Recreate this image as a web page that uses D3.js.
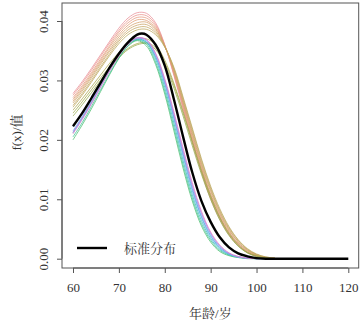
<!DOCTYPE html>
<html>
<head>
<meta charset="utf-8">
<script src="https://cdn.jsdelivr.net/npm/d3@7"></script>
<style>
  body { margin: 0; background: #fff; }
  svg { display: block; }
</style>
</head>
<body>
<div id="chart"></div>
<script>
// age grid for the coloured density curves
var ageGrid = [60,62,64,66,68,70,72,74,76,78,80,82,84,86,88,90,92,94,96,98,100,102,104];

// warm curves (pink -> tan), highest peaks
var warmSeries = [
  [0.0278,0.0298,0.0320,0.0343,0.0366,0.0388,0.0405,0.0414,0.0413,0.0397,0.0360,0.0308,0.0252,0.0196,0.0145,0.0100,0.0066,0.0040,0.0022,0.0010,0.0004,0.0001,0.0000],
  [0.0275,0.0295,0.0317,0.0340,0.0363,0.0384,0.0401,0.0410,0.0409,0.0394,0.0359,0.0310,0.0255,0.0199,0.0148,0.0103,0.0069,0.0042,0.0023,0.0011,0.0005,0.0001,0.0000],
  [0.0271,0.0291,0.0313,0.0336,0.0359,0.0381,0.0397,0.0406,0.0405,0.0391,0.0359,0.0312,0.0258,0.0203,0.0152,0.0106,0.0071,0.0044,0.0025,0.0012,0.0005,0.0002,0.0000],
  [0.0268,0.0288,0.0310,0.0333,0.0356,0.0377,0.0393,0.0402,0.0401,0.0388,0.0358,0.0314,0.0261,0.0206,0.0155,0.0109,0.0074,0.0046,0.0026,0.0013,0.0006,0.0002,0.0000],
  [0.0265,0.0285,0.0307,0.0330,0.0352,0.0373,0.0389,0.0397,0.0398,0.0386,0.0358,0.0316,0.0263,0.0210,0.0158,0.0113,0.0076,0.0048,0.0028,0.0014,0.0006,0.0002,0.0001],
  [0.0262,0.0282,0.0304,0.0327,0.0349,0.0369,0.0385,0.0393,0.0394,0.0383,0.0357,0.0318,0.0266,0.0213,0.0161,0.0116,0.0079,0.0050,0.0029,0.0015,0.0007,0.0002,0.0001],
  [0.0258,0.0278,0.0300,0.0323,0.0345,0.0366,0.0381,0.0389,0.0390,0.0380,0.0357,0.0320,0.0269,0.0217,0.0165,0.0119,0.0081,0.0052,0.0031,0.0016,0.0007,0.0003,0.0001],
  [0.0255,0.0275,0.0297,0.0320,0.0342,0.0362,0.0377,0.0385,0.0386,0.0377,0.0356,0.0322,0.0272,0.0220,0.0168,0.0122,0.0084,0.0054,0.0032,0.0017,0.0008,0.0003,0.0001]
];
var warmColors = ["#e98f98","#ea9289","#e5987e","#de9c74","#d5a06b","#cba365","#c2a560","#baa75c"];

// olive curves, lowest peaks
var oliveSeries = [
  [0.0250,0.0269,0.0289,0.0309,0.0329,0.0347,0.0361,0.0369,0.0370,0.0360,0.0334,0.0295,0.0248,0.0198,0.0149,0.0106,0.0070,0.0043,0.0024,0.0011,0.0005,0.0001,0.0000],
  [0.0245,0.0264,0.0284,0.0304,0.0323,0.0340,0.0354,0.0362,0.0364,0.0355,0.0330,0.0292,0.0245,0.0195,0.0146,0.0103,0.0068,0.0041,0.0022,0.0010,0.0004,0.0001,0.0000],
  [0.0240,0.0259,0.0279,0.0300,0.0320,0.0338,0.0352,0.0360,0.0362,0.0352,0.0326,0.0287,0.0240,0.0190,0.0142,0.0100,0.0065,0.0039,0.0021,0.0010,0.0004,0.0001,0.0000]
];
var oliveColors = ["#aaa64e","#a0a84a","#95aa4c"];

// green / teal / cyan curves, earliest decline
var greenSeries = [
  [0.0200,0.0225,0.0252,0.0281,0.0310,0.0337,0.0358,0.0367,0.0358,0.0327,0.0277,0.0215,0.0152,0.0097,0.0055,0.0028,0.0012,0.0005,0.0002,0.0000,0.0000,0.0000,0.0000],
  [0.0205,0.0229,0.0256,0.0284,0.0312,0.0338,0.0358,0.0368,0.0361,0.0331,0.0282,0.0221,0.0158,0.0102,0.0059,0.0031,0.0014,0.0006,0.0002,0.0001,0.0000,0.0000,0.0000],
  [0.0212,0.0236,0.0262,0.0290,0.0317,0.0342,0.0361,0.0370,0.0364,0.0336,0.0288,0.0228,0.0165,0.0108,0.0064,0.0034,0.0016,0.0007,0.0003,0.0001,0.0000,0.0000,0.0000],
  [0.0222,0.0245,0.0270,0.0297,0.0323,0.0346,0.0362,0.0369,0.0364,0.0340,0.0296,0.0238,0.0176,0.0118,0.0071,0.0039,0.0019,0.0008,0.0003,0.0001,0.0000,0.0000,0.0000]
];
var greenColors = ["#4cbf6e","#3cc196","#35bfb7","#3ebcd2"];

// blue / purple / pink curves
var blueSeries = [
  [0.0215,0.0239,0.0265,0.0293,0.0320,0.0344,0.0362,0.0371,0.0366,0.0340,0.0294,0.0235,0.0172,0.0114,0.0069,0.0037,0.0018,0.0008,0.0003,0.0001,0.0000,0.0000,0.0000],
  [0.0213,0.0237,0.0263,0.0291,0.0318,0.0343,0.0362,0.0372,0.0368,0.0344,0.0300,0.0243,0.0180,0.0122,0.0075,0.0042,0.0021,0.0009,0.0003,0.0001,0.0000,0.0000,0.0000],
  [0.0212,0.0236,0.0262,0.0290,0.0317,0.0342,0.0361,0.0371,0.0368,0.0344,0.0300,0.0243,0.0182,0.0124,0.0077,0.0043,0.0021,0.0009,0.0003,0.0001,0.0000,0.0000,0.0000],
  [0.0210,0.0234,0.0260,0.0288,0.0316,0.0341,0.0361,0.0372,0.0369,0.0346,0.0303,0.0247,0.0186,0.0128,0.0080,0.0045,0.0023,0.0010,0.0004,0.0001,0.0000,0.0000,0.0000]
];
var blueColors = ["#6aa6ec","#8f9af0","#b48fe8","#e080c8"];

// standard distribution (black)
var stdAge = [60,62,64,66,68,70,72,74,75,76,78,80,82,84,86,88,90,92,94,96,98,100,102,105,110,120];
var stdDensity = [0.0223,0.0245,0.0270,0.0296,0.0322,0.0345,0.0364,0.0377,0.0379,0.0377,0.0360,0.0325,0.0268,0.0205,0.0145,0.0097,0.0062,0.0036,0.0019,0.0009,0.0004,0.0001,0.0000,0.0000,0.0000,0.0000];

var xTicks = [60,70,80,90,100,110,120];
var yTicks = [0,0.01,0.02,0.03,0.04];
var legendLabel = "标准分布";
var xTitle = "年龄/岁";
var yTitle = "f(x)/值";

var W = 363, H = 325;
var box = {left: 62, top: 3, right: 358.7, bottom: 268};
var serif = "'Liberation Serif', 'Noto Serif CJK SC', serif";

var svg = d3.select("#chart").append("svg")
    .attr("width", W)
    .attr("height", H);

var xScale = d3.scaleLinear().domain([60, 120]).range([73, 348.3]);
var yScale = d3.scaleLinear().domain([0, 0.04]).range([258.7, 21]);

var line = d3.line()
    .x(function(d) { return xScale(d[0]); })
    .y(function(d) { return yScale(d[1]); })
    .curve(d3.curveCatmullRom.alpha(0.5));

function drawGroup(series, colors) {
  series.forEach(function(vals, i) {
    var pts = ageGrid.map(function(a, j) { return [a, vals[j]]; });
    svg.append("path")
        .attr("d", line(pts))
        .attr("fill", "none")
        .attr("stroke", colors[i])
        .attr("stroke-width", 0.9)
        .attr("stroke-opacity", 0.85);
  });
}

drawGroup(warmSeries, warmColors);
drawGroup(oliveSeries, oliveColors);
drawGroup(greenSeries, greenColors);
drawGroup(blueSeries, blueColors);

// black standard curve
svg.append("path")
    .attr("d", line(stdAge.map(function(a, j) { return [a, stdDensity[j]]; })))
    .attr("fill", "none")
    .attr("stroke", "#000")
    .attr("stroke-width", 2.4);

// box
svg.append("rect")
    .attr("x", box.left)
    .attr("y", box.top)
    .attr("width", box.right - box.left)
    .attr("height", box.bottom - box.top)
    .attr("fill", "none")
    .attr("stroke", "#555")
    .attr("stroke-width", 1);

function styleText(sel) {
  sel.style("font-family", serif).style("font-size", "13px").attr("fill", "#333");
}

// axes
var xAxis = d3.axisBottom(xScale).tickValues(xTicks).tickSize(5).tickPadding(7)
    .tickFormat(d3.format("d"));
var gx = svg.append("g")
    .attr("transform", "translate(0," + box.bottom + ")")
    .call(xAxis);
gx.attr("font-family", null).attr("font-size", null);
gx.select(".domain").attr("d", "M" + xScale(60) + ",0H" + xScale(120)).attr("stroke", "#555");
gx.selectAll(".tick line").attr("stroke", "#555");
gx.selectAll(".tick text").call(styleText).attr("dy", "0.9em");

var yAxis = d3.axisLeft(yScale).tickValues(yTicks).tickSize(5).tickFormat(d3.format(".2f"));
var gy = svg.append("g")
    .attr("transform", "translate(" + box.left + ",0)")
    .call(yAxis);
gy.attr("font-family", null).attr("font-size", null);
gy.select(".domain").attr("d", "M0," + yScale(0) + "V" + yScale(0.04)).attr("stroke", "#555");
gy.selectAll(".tick line").attr("stroke", "#555");
gy.selectAll(".tick text").call(styleText)
    .attr("x", null).attr("dy", null)
    .attr("text-anchor", "middle")
    .attr("transform", "translate(-14,0) rotate(-90)");

// titles
svg.append("text").call(styleText)
    .attr("x", (box.left + box.right) / 2)
    .attr("y", 318)
    .attr("text-anchor", "middle")
    .text(xTitle);

svg.append("text").call(styleText)
    .attr("transform", "translate(21," + ((box.top + box.bottom) / 2 - 3) + ") rotate(-90)")
    .attr("text-anchor", "middle")
    .text(yTitle);

// legend
svg.append("line")
    .attr("x1", 77).attr("x2", 107)
    .attr("y1", 248).attr("y2", 248)
    .attr("stroke", "#000")
    .attr("stroke-width", 2.4);
svg.append("text").call(styleText)
    .attr("x", 124)
    .attr("y", 253)
    .text(legendLabel);
</script>
</body>
</html>
